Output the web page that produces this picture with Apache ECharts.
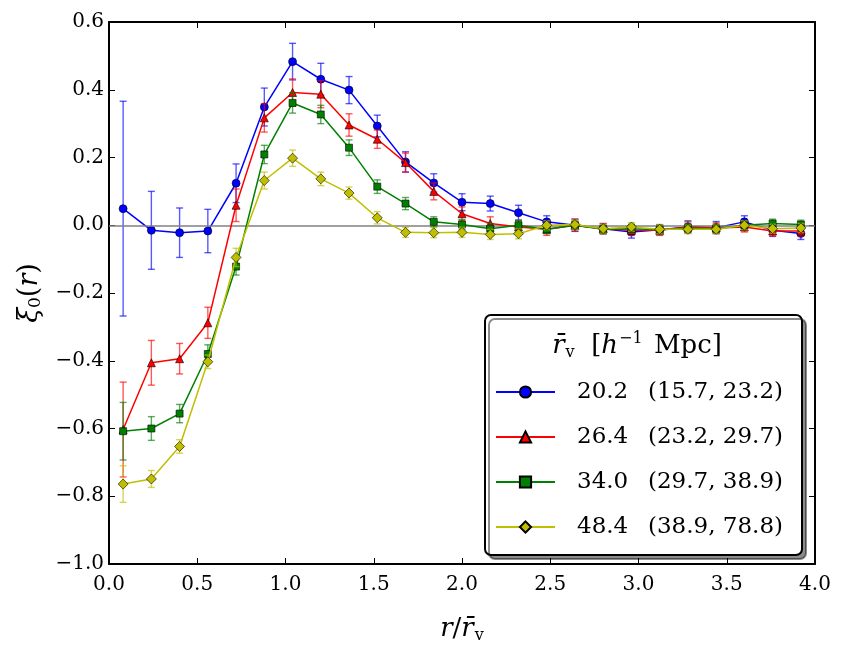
<!DOCTYPE html>
<html>
<head>
<meta charset="utf-8">
<script src="https://cdn.jsdelivr.net/npm/echarts@6/dist/echarts.min.js"></script>
<style>
html,body{margin:0;padding:0;background:#fff;}
#c{width:843px;height:649px;}
</style>
</head>
<body>
<div id="c"></div>
<script>
const xVals = [0.08, 0.24, 0.40, 0.56, 0.72, 0.88, 1.04, 1.20, 1.36, 1.52, 1.68, 1.84, 2.00, 2.16, 2.32, 2.48, 2.64, 2.80, 2.96, 3.12, 3.28, 3.44, 3.60, 3.76, 3.92];

const blueY   = [0.049, -0.015, -0.022, -0.017, 0.124, 0.349, 0.483, 0.431, 0.399, 0.293, 0.187, 0.125, 0.068, 0.064, 0.037, 0.010, 0.000, -0.010, -0.020, -0.013, -0.005, -0.007, 0.010, -0.015, -0.024];
const blueErr = [0.317, 0.115, 0.073, 0.064, 0.057, 0.056, 0.054, 0.047, 0.040, 0.032, 0.030, 0.027, 0.025, 0.022, 0.022, 0.018, 0.018, 0.015, 0.018, 0.015, 0.018, 0.018, 0.018, 0.018, 0.018];

const redY    = [-0.603, -0.406, -0.394, -0.288, 0.059, 0.317, 0.392, 0.387, 0.296, 0.254, 0.185, 0.100, 0.034, 0.005, -0.005, -0.012, 0.000, -0.010, -0.015, -0.015, -0.005, -0.008, -0.005, -0.017, -0.017];
const redErr  = [0.140, 0.066, 0.045, 0.046, 0.048, 0.042, 0.040, 0.040, 0.033, 0.027, 0.028, 0.025, 0.020, 0.020, 0.018, 0.018, 0.018, 0.015, 0.015, 0.015, 0.015, 0.015, 0.015, 0.015, 0.015];

const greenY   = [-0.608, -0.600, -0.556, -0.380, -0.122, 0.209, 0.361, 0.327, 0.229, 0.114, 0.064, 0.010, 0.002, -0.010, 0.000, -0.012, 0.000, -0.012, -0.010, -0.013, -0.008, -0.010, 0.000, 0.005, 0.002];
const greenErr = [0.085, 0.035, 0.027, 0.027, 0.025, 0.027, 0.030, 0.027, 0.023, 0.020, 0.018, 0.015, 0.015, 0.015, 0.015, 0.013, 0.013, 0.013, 0.013, 0.013, 0.013, 0.013, 0.013, 0.013, 0.013];

const yellowY   = [-0.764, -0.749, -0.653, -0.403, -0.095, 0.132, 0.198, 0.137, 0.095, 0.022, -0.021, -0.022, -0.021, -0.027, -0.025, 0.000, 0.002, -0.010, -0.005, -0.012, -0.012, -0.012, 0.000, -0.010, -0.008];
const yellowErr = [0.054, 0.025, 0.020, 0.020, 0.027, 0.025, 0.024, 0.020, 0.018, 0.018, 0.015, 0.015, 0.015, 0.015, 0.015, 0.013, 0.013, 0.013, 0.013, 0.013, 0.013, 0.013, 0.013, 0.013, 0.013];

const seriesNames = ['20.2|(15.7, 23.2)', '26.4|(23.2, 29.7)', '34.0|(29.7, 38.9)', '48.4|(38.9, 78.8)'];
const seriesColors = ['#0000ff', '#ff0000', '#008000', '#bfbf00'];
const seriesSymbols = ['circle', 'triangle', 'rect', 'diamond'];
const seriesSizes = [8, 8, 7, 10];
const xTicks = [0, 4, 0.5];
const yTicks = [-1.0, 0.6, 0.2];

const FONT = 'DejaVu Serif';
const chart = echarts.init(document.getElementById('c'), null, {renderer: 'canvas'});

const allY = [blueY, redY, greenY, yellowY];
const allErr = [blueErr, redErr, greenErr, yellowErr];

function errSeries(k) {
  const data = xVals.map((x, i) => [x, allY[k][i], allErr[k][i]]);
  return {
    type: 'custom',
    name: 'err' + k,
    z: 2 + k * 2,
    silent: true,
    data: data,
    encode: {x: 0, y: 1},
    renderItem: function (params, api) {
      const x = api.value(0), y = api.value(1), e = api.value(2);
      const top = api.coord([x, y + e]);
      const bot = api.coord([x, y - e]);
      const cw = 3.5;
      const st = {stroke: seriesColors[k], lineWidth: 1.4, opacity: 0.65};
      return {
        type: 'group',
        children: [
          {type: 'line', shape: {x1: top[0], y1: top[1], x2: bot[0], y2: bot[1]}, style: st},
          {type: 'line', shape: {x1: top[0] - cw, y1: top[1], x2: top[0] + cw, y2: top[1]}, style: st},
          {type: 'line', shape: {x1: bot[0] - cw, y1: bot[1], x2: bot[0] + cw, y2: bot[1]}, style: st}
        ]
      };
    }
  };
}

function lineSeries(k) {
  return {
    type: 'line',
    name: seriesNames[k],
    z: 3 + k * 2,
    data: xVals.map((x, i) => [x, allY[k][i]]),
    symbol: seriesSymbols[k],
    symbolSize: seriesSizes[k],
    showAllSymbol: true,
    color: seriesColors[k],
    lineStyle: {color: seriesColors[k], width: 1.5},
    itemStyle: {color: seriesColors[k], borderColor: '#000', borderWidth: 0.6},
    emphasis: {disabled: true},
    animation: false
  };
}

const series = [];
for (let k = 0; k < 4; k++) { series.push(errSeries(k)); series.push(lineSeries(k)); }
series.push({
  type: 'line', name: 'zero', data: [], z: 1, silent: true,
  markLine: {silent: true, symbol: 'none', label: {show: false},
    lineStyle: {color: '#808080', width: 1.5, type: 'solid'}, data: [{yAxis: 0}]}
});

const tickLbl = {fontFamily: FONT, fontSize: 20, color: '#000'};
function fmt(v) { return (v < 0 ? '\u2212' : '') + Math.abs(v).toFixed(1); }
const frameLine = {show: true, onZero: false, lineStyle: {color: '#000', width: 2}};
const frameTick = {show: true, inside: true, length: 6, lineStyle: {color: '#000', width: 1}};

const option = {
  animation: false,
  backgroundColor: '#fff',
  grid: {left: 109, top: 22, right: 28, bottom: 81, containLabel: false},
  xAxis: [{
    type: 'value', min: xTicks[0], max: xTicks[1], interval: xTicks[2],
    axisLine: frameLine, axisTick: frameTick,
    splitLine: {show: false},
    axisLabel: Object.assign({margin: 11, formatter: fmt}, tickLbl),
    name: '{i|r}{n|/}{i|r\u0304}{s|v}',
    nameLocation: 'middle', nameGap: 50,
    nameTextStyle: {fontFamily: FONT, color: '#000',
      rich: {
        i: {fontFamily: FONT, fontStyle: 'italic', fontSize: 26, color: '#000'},
        n: {fontFamily: FONT, fontSize: 26, color: '#000'},
        s: {fontFamily: FONT, fontSize: 16, color: '#000', padding: [14, 0, 0, 1]}
      }}
  }, {
    type: 'value', position: 'top', min: xTicks[0], max: xTicks[1], interval: xTicks[2],
    axisLine: frameLine, axisTick: frameTick,
    splitLine: {show: false}, axisLabel: {show: false}
  }],
  yAxis: [{
    type: 'value', min: yTicks[0], max: yTicks[1], interval: yTicks[2],
    axisLine: frameLine, axisTick: frameTick,
    splitLine: {show: false},
    axisLabel: Object.assign({margin: 5, formatter: fmt}, tickLbl),
    name: '{i|\u03BE}{s|0}{n|(}{i|r}{n|)}',
    nameLocation: 'middle', nameGap: 62, nameRotate: 90,
    nameTextStyle: {fontFamily: FONT, color: '#000',
      rich: {
        i: {fontFamily: FONT, fontStyle: 'italic', fontSize: 27, color: '#000'},
        n: {fontFamily: FONT, fontSize: 27, color: '#000'},
        s: {fontFamily: FONT, fontSize: 17, color: '#000', padding: [12, 0, 0, 0]}
      }}
  }, {
    type: 'value', position: 'right', min: yTicks[0], max: yTicks[1], interval: yTicks[2],
    axisLine: frameLine, axisTick: frameTick,
    splitLine: {show: false}, axisLabel: {show: false}
  }],
  graphic: [{
    type: 'rect', z: 50, silent: true,
    shape: {x: 485, y: 315, width: 317, height: 240, r: 6},
    style: {fill: '#fff', stroke: '#000', lineWidth: 2,
      shadowColor: 'rgba(0,0,0,0.45)', shadowOffsetX: 4, shadowOffsetY: 4, shadowBlur: 0}
  }, {
    type: 'text', z: 60, silent: true,
    x: 637, y: 346,
    style: {
      text: '{i|r\u0304}{s|v}{n|  [}{i|h}{p|\u22121}{n| Mpc]}',
      align: 'center', verticalAlign: 'middle',
      rich: {
        i: {fontFamily: FONT, fontStyle: 'italic', fontSize: 26, fill: '#000', lineHeight: 34},
        n: {fontFamily: FONT, fontSize: 26, fill: '#000', lineHeight: 34},
        s: {fontFamily: FONT, fontSize: 16, fill: '#000', padding: [14, 0, 0, 1]},
        p: {fontFamily: FONT, fontSize: 16, fill: '#000', padding: [0, 3, 14, 1]}
      }
    }
  }],
  legend: {
    z: 60,
    orient: 'vertical',
    left: 495, top: 379,
    padding: 0,
    itemGap: 19,
    itemWidth: 59, itemHeight: 14,
    data: seriesNames,
    formatter: function (name) {
      const p = name.split('|');
      return '{a|' + p[0] + '}{b|' + p[1] + '}';
    },
    textStyle: {
      fontFamily: FONT, fontSize: 23, color: '#000', lineHeight: 26,
      rich: {
        a: {fontFamily: FONT, fontSize: 23, color: '#000', width: 71, padding: [0, 0, 0, 17]},
        b: {fontFamily: FONT, fontSize: 23, color: '#000'}
      }
    }
  },
  series: series
};
chart.setOption(option);
</script>
</body>
</html>
